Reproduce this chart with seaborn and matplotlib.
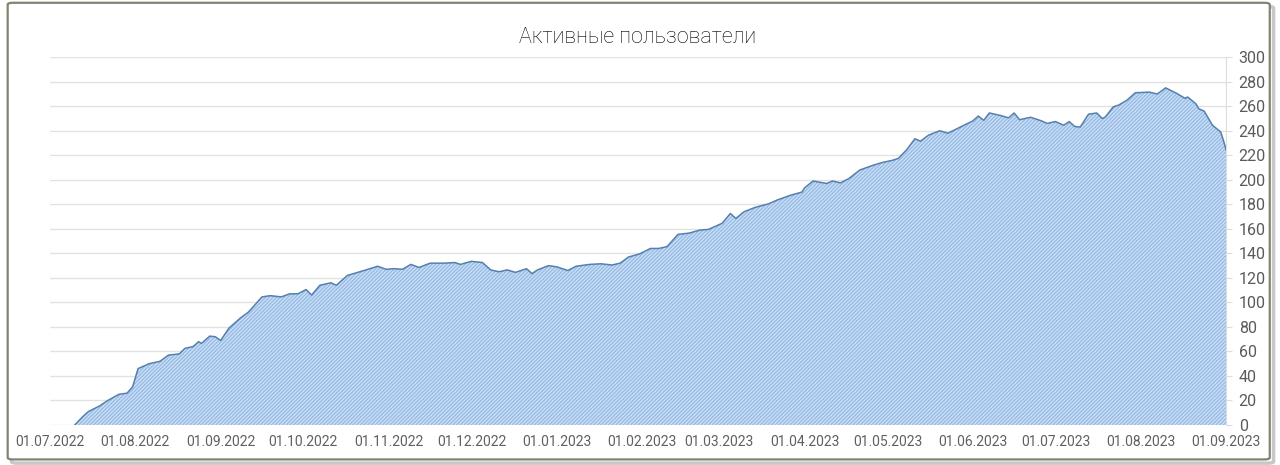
import matplotlib
matplotlib.use('Agg')
from matplotlib import pyplot as plt
import matplotlib.dates as mdates
from matplotlib.patches import FancyBboxPatch
import pandas as pd
import seaborn as sns

# active users per day
dates = ['10.07.2022', '13.07.2022', '15.07.2022', '19.07.2022', '22.07.2022', '26.07.2022',
         '29.07.2022', '31.07.2022', '02.08.2022', '06.08.2022', '10.08.2022', '13.08.2022',
         '17.08.2022', '19.08.2022', '22.08.2022', '24.08.2022', '25.08.2022', '28.08.2022',
         '30.08.2022', '01.09.2022', '04.09.2022', '08.09.2022', '11.09.2022', '16.09.2022',
         '19.09.2022', '23.09.2022', '26.09.2022', '29.09.2022', '02.10.2022', '04.10.2022',
         '07.10.2022', '11.10.2022', '13.10.2022', '17.10.2022', '23.10.2022', '28.10.2022',
         '31.10.2022', '03.11.2022', '06.11.2022', '09.11.2022', '12.11.2022', '16.11.2022',
         '21.11.2022', '25.11.2022', '27.11.2022', '01.12.2022', '05.12.2022', '08.12.2022',
         '11.12.2022', '14.12.2022', '17.12.2022', '21.12.2022', '23.12.2022', '25.12.2022',
         '29.12.2022', '01.01.2023', '05.01.2023', '08.01.2023', '13.01.2023', '17.01.2023',
         '21.01.2023', '24.01.2023', '27.01.2023', '31.01.2023', '04.02.2023', '07.02.2023',
         '10.02.2023', '14.02.2023', '18.02.2023', '22.02.2023', '25.02.2023', '02.03.2023',
         '05.03.2023', '07.03.2023', '10.03.2023', '14.03.2023', '19.03.2023', '22.03.2023',
         '27.03.2023', '31.03.2023', '01.04.2023', '04.04.2023', '09.04.2023', '11.04.2023',
         '14.04.2023', '17.04.2023', '21.04.2023', '26.04.2023', '29.04.2023', '03.05.2023',
         '05.05.2023', '08.05.2023', '11.05.2023', '13.05.2023', '16.05.2023', '20.05.2023',
         '23.05.2023', '27.05.2023', '01.06.2023', '03.06.2023', '05.06.2023', '07.06.2023',
         '11.06.2023', '14.06.2023', '16.06.2023', '18.06.2023', '22.06.2023', '26.06.2023',
         '28.06.2023', '01.07.2023', '04.07.2023', '06.07.2023', '08.07.2023', '10.07.2023',
         '13.07.2023', '16.07.2023', '18.07.2023', '19.07.2023', '22.07.2023', '24.07.2023',
         '27.07.2023', '30.07.2023', '04.08.2023', '07.08.2023', '10.08.2023', '14.08.2023',
         '17.08.2023', '18.08.2023', '21.08.2023', '22.08.2023', '24.08.2023', '27.08.2023',
         '30.08.2023', '31.08.2023', '01.09.2023']
users = [0, 7, 11, 15.5, 20, 25, 26, 31, 46, 50, 52, 57,
         58, 62.5, 64, 68, 66.5, 72.5, 72, 69, 79, 87, 92, 104.5,
         105.5, 104.5, 107, 107, 110.5, 106, 114, 116, 114, 122, 126, 129.5,
         127, 127.5, 127, 131, 128.5, 132, 132, 132.5, 131, 133.5, 132.5, 126.5,
         125, 126.5, 124.5, 127.5, 123.5, 126.5, 130, 129, 126, 129.5, 131, 131.5,
         130.5, 132, 137, 139.5, 144, 144, 145.5, 155.5, 156.5, 159, 159.5, 164.5,
         172.5, 168.5, 174, 177.5, 180.5, 183.5, 187.5, 190, 193.5, 199, 197, 199,
         197.5, 201, 208, 212, 214, 216, 217.5, 224.5, 233.5, 231.5, 236.5, 240,
         238, 242.5, 248, 252, 248.5, 254.5, 252.5, 250.5, 254.5, 249, 251, 248,
         246, 247.5, 244.5, 247.5, 243.5, 243, 253.5, 254.5, 250, 251, 259.5, 261,
         265, 271, 271.5, 270, 275, 270.5, 266.5, 267.5, 262, 258, 256, 244.5,
         239, 232, 224]
y_ticks = list(range(0, 301, 20))
x_ticks = ['01.07.2022', '01.08.2022', '01.09.2022', '01.10.2022', '01.11.2022',
           '01.12.2022', '01.01.2023', '01.02.2023', '01.03.2023', '01.04.2023',
           '01.05.2023', '01.06.2023', '01.07.2023', '01.08.2023', '01.09.2023']

df = pd.DataFrame({'date': pd.to_datetime(dates, format='%d.%m.%Y'), 'users': users})
ticks = pd.to_datetime(x_ticks, format='%d.%m.%Y')

sns.set_style('white')
plt.rcParams['font.family'] = ['Roboto', 'DejaVu Sans']
plt.rcParams['hatch.linewidth'] = 1.0

fig = plt.figure(figsize=(12.8, 4.65), dpi=100)
ax = fig.add_axes([0.039, 0.086, 0.919, 0.791])

# frame round the whole picture, with a soft shadow
fig.patches.append(FancyBboxPatch((0.009, 0.004), 0.986, 0.982, boxstyle='round,pad=0,rounding_size=0.004',
                                  transform=fig.transFigure, facecolor='none', edgecolor='#c8c8c8',
                                  linewidth=2.5, zorder=-2))
fig.patches.append(FancyBboxPatch((0.006, 0.012), 0.986, 0.982, boxstyle='round,pad=0,rounding_size=0.004',
                                  transform=fig.transFigure, facecolor='white', edgecolor='#7f8670',
                                  linewidth=1.6, zorder=-1))

ax.patch.set_alpha(0)
ax.fill_between(df['date'], df['users'], 0, facecolor='#cfe2f6', edgecolor='#97bbe6',
                hatch='/////////', linewidth=0, zorder=2)
sns.lineplot(data=df, x='date', y='users', ax=ax, color='#5580ad', linewidth=1.1, zorder=3)

ax.set_xlim(ticks[0], ticks[-1])
ax.set_ylim(0, 300)
ax.set_yticks(y_ticks)
ax.set_xticks(ticks)
ax.xaxis.set_major_formatter(mdates.DateFormatter('%d.%m.%Y'))
ax.yaxis.tick_right()
ax.grid(axis='y', color='#e2e2e2', linewidth=1)
ax.set_axisbelow(True)
ax.set_xlabel('')
ax.set_ylabel('')
for s in ['top', 'left', 'bottom']:
    ax.spines[s].set_visible(False)
ax.spines['right'].set_color('#dcdcdc')
ax.tick_params(axis='y', labelsize=11.5, colors='#5a5a5a', length=4, color='#dcdcdc', pad=5, right=True)
ax.tick_params(axis='x', labelsize=10, colors='#606060', length=0, pad=7)

fig.text(0.498, 0.92, 'Активные пользователи', ha='center', va='center', fontsize=15.5,
         color='#000000', fontweight='light')

plt.savefig('out.png', dpi=100)
